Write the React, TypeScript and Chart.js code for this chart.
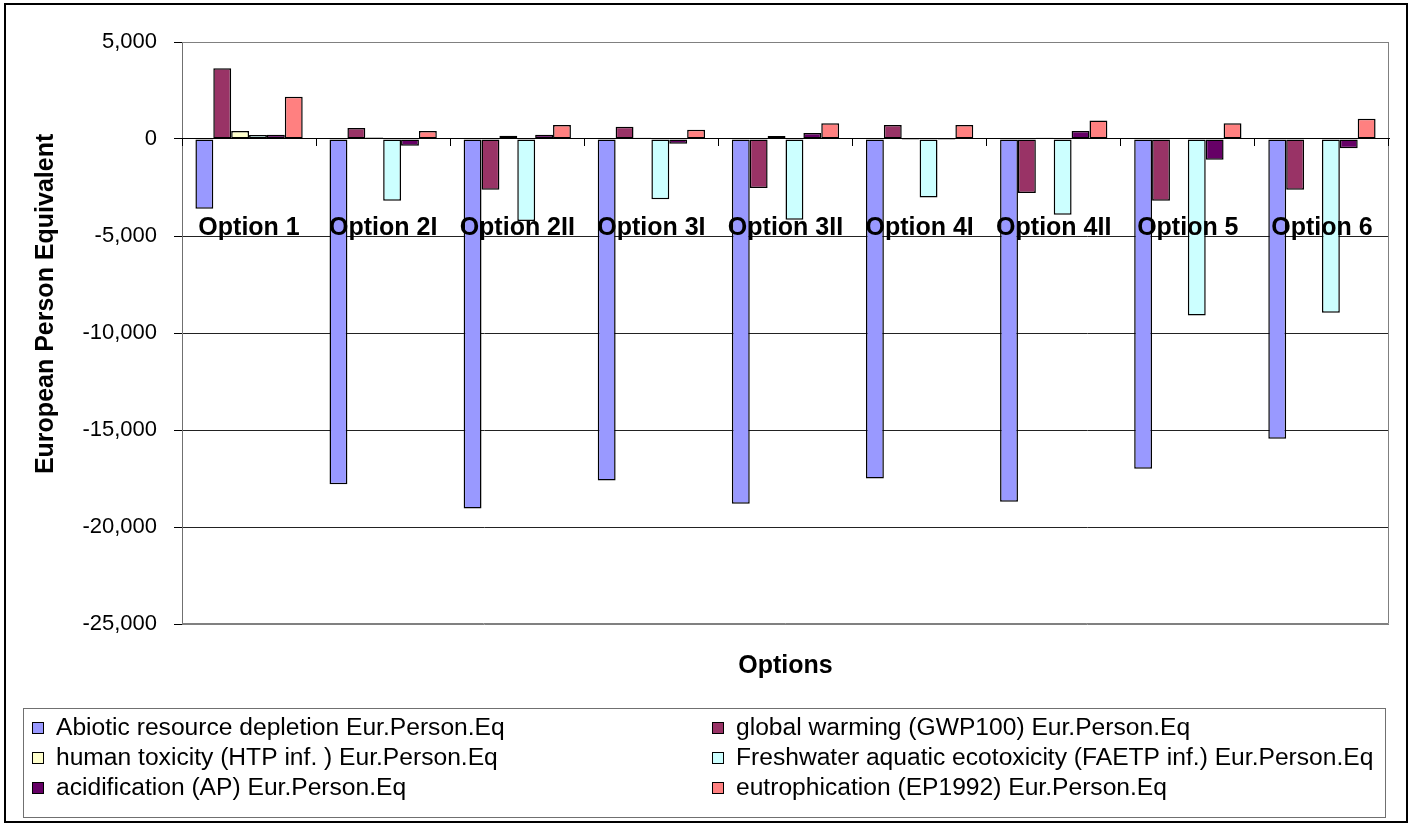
import { useEffect, useRef } from 'react';
import { Chart, registerables } from 'chart.js';

Chart.register(...registerables);

// Options compared in the assessment
const categories = ['Option 1', 'Option 2I', 'Option 2II', 'Option 3I', 'Option 3II', 'Option 4I', 'Option 4II', 'Option 5', 'Option 6'];

// Impact categories, normalised to European person equivalents
const seriesNames = [
  'Abiotic resource depletion Eur.Person.Eq',
  'global warming (GWP100) Eur.Person.Eq',
  'human toxicity (HTP inf. ) Eur.Person.Eq',
  'Freshwater aquatic ecotoxicity (FAETP inf.) Eur.Person.Eq',
  'acidification (AP) Eur.Person.Eq',
  'eutrophication (EP1992) Eur.Person.Eq',
];

const abioticDepletion = [-3600, -17800, -19050, -17600, -18800, -17500, -18700, -17000, -15450];
const globalWarming = [3650, 570, -2610, 630, -2530, 720, -2780, -3180, -2610];
const humanToxicity = [410, 80, 170, 70, 155, -50, 70, 0, 0];
const freshwaterEcotox = [210, -3180, -4230, -3110, -4160, -3010, -3900, -9100, -8950];
const acidification = [220, -345, 220, -240, 310, -50, 410, -1070, -480];
const eutrophication = [2180, 410, 720, 480, 810, 720, 960, 810, 1050];

const seriesValues = [abioticDepletion, globalWarming, humanToxicity, freshwaterEcotox, acidification, eutrophication];
const seriesColors = ['#9999FF', '#993366', '#FFFFCC', '#CCFFFF', '#660066', '#FF8080'];

const yTickValues = [5000, 0, -5000, -10000, -15000, -20000, -25000];
const yAxisTitle = 'European Person Equivalent';

const FONT = '"Liberation Sans", Arial, Helvetica, sans-serif';

// Plot-area frame, value-axis title, two-column legend box and the outer chart border
const frameAndLegend = {
  id: 'frameAndLegend',
  beforeDatasetsDraw(chart: any) {
    const { ctx } = chart;
    const { left, top, right, bottom } = chart.chartArea;
    ctx.save();
    ctx.strokeStyle = '#808080';
    ctx.lineWidth = 1;
    ctx.beginPath();
    ctx.moveTo(left, top + 0.5);
    ctx.lineTo(right - 0.5, top + 0.5);
    ctx.lineTo(right - 0.5, bottom - 0.5);
    ctx.lineTo(left, bottom - 0.5);
    ctx.stroke();
    ctx.restore();
  },
  afterDraw(chart: any) {
    const { ctx } = chart;

    // value-axis title, rotated, sitting slightly above the plot's middle
    const yScale = chart.scales.y;
    ctx.save();
    ctx.translate(46, yScale.getPixelForValue(-8500));
    ctx.rotate(-Math.PI / 2);
    ctx.font = `bold 25px ${FONT}`;
    ctx.fillStyle = '#000';
    ctx.textAlign = 'center';
    ctx.textBaseline = 'middle';
    ctx.fillText(yAxisTitle, 0, 0);
    ctx.restore();

    const boxTop = chart.scales.x2.bottom;
    const boxLeft = 23;
    const boxRight = chart.width - 24;
    const boxBottom = chart.height - 7;
    ctx.save();
    ctx.strokeStyle = '#707070';
    ctx.lineWidth = 1;
    ctx.strokeRect(boxLeft + 0.5, boxTop + 0.5, boxRight - boxLeft, boxBottom - boxTop);

    ctx.font = `23px ${FONT}`;
    ctx.textBaseline = 'middle';
    ctx.textAlign = 'left';
    const datasets = chart.data.datasets;
    datasets.forEach((ds: any, i: number) => {
      const col = i % 2;
      const row = Math.floor(i / 2);
      const x = boxLeft + 9 + col * 680;
      const y = boxTop + 20 + row * 30;
      ctx.fillStyle = ds.backgroundColor;
      ctx.fillRect(x, y - 6, 12, 12);
      ctx.strokeStyle = '#000';
      ctx.strokeRect(x + 0.5, y - 5.5, 11, 11);
      ctx.fillStyle = '#000';
      ctx.save();
      ctx.translate(x + 24, y + 1);
      ctx.scale(1.07, 1);
      ctx.fillText(ds.label, 0, 0);
      ctx.restore();
    });

    ctx.strokeStyle = '#000';
    ctx.lineWidth = 2;
    ctx.strokeRect(5, 4, chart.width - 7, chart.height - 6);
    ctx.restore();
  },
};

export default function App() {
  const canvasRef = useRef<HTMLCanvasElement>(null);

  useEffect(() => {
    const canvas = canvasRef.current;
    if (!canvas) return;
    const chart = new Chart(canvas, {
      type: 'bar',
      data: {
        labels: categories,
        datasets: seriesNames.map((name, i) => ({
          label: name,
          data: seriesValues[i],
          backgroundColor: seriesColors[i],
          borderColor: '#000',
          borderWidth: 1.5,
          borderSkipped: false,
        })),
      },
      options: {
        responsive: false,
        animation: false,
        devicePixelRatio: 1,
        layout: { padding: { top: 42, right: 20, bottom: 116, left: 0 } },
        datasets: { bar: { categoryPercentage: 0.8, barPercentage: 1 } },
        plugins: {
          legend: { display: false },
          tooltip: { enabled: false },
        },
        scales: {
          x: {
            type: 'category',
            position: { y: 0 },
            offset: true,
            grid: {
              display: true,
              drawOnChartArea: false,
              drawTicks: true,
              tickLength: 7,
              color: '#000',
              offset: true,
              z: 1,
            },
            border: { display: true, color: '#000', width: 1, z: 1 },
            ticks: {
              font: { family: FONT, size: 25, weight: 'bold' },
              color: '#000',
              padding: 67,
              maxRotation: 0,
              minRotation: 0,
              autoSkip: false,
              z: 2,
            },
            afterFit: (scale: any) => {
              scale.paddingLeft = 0;
              scale.paddingRight = 0;
            },
          },
          x2: {
            type: 'category',
            position: 'bottom',
            offset: true,
            grid: { display: false },
            border: { display: false },
            ticks: { display: false },
            title: {
              display: true,
              text: 'Options',
              font: { family: FONT, size: 25, weight: 'bold' },
              color: '#000',
              padding: { top: 0, bottom: 27 },
            },
            afterFit: (scale: any) => {
              scale.height = 84;
              scale.paddingLeft = 0;
              scale.paddingRight = 0;
            },
          },
          y: {
            type: 'linear',
            position: 'left',
            min: -25000,
            max: 5000,
            afterBuildTicks: (scale: any) => {
              scale.ticks = yTickValues.map((v) => ({ value: v }));
            },
            grid: {
              color: (c: any) => (c.tick && (c.tick.value === 5000 || c.tick.value === -25000) ? '#808080' : '#222'),
              tickColor: '#000',
              tickLength: 8,
              lineWidth: 1,
            },
            border: { display: true, color: '#707070', width: 1 },
            ticks: {
              font: { family: FONT, size: 22 },
              color: '#000',
              padding: 17,
              callback: (v: any) => Number(v).toLocaleString('en-US'),
            },
            title: { display: false },
            afterFit: (scale: any) => {
              scale.width = 182;
            },
          },
        },
      } as any,
      plugins: [frameAndLegend],
    });
    return () => chart.destroy();
  }, []);

  return (
    <div style={{ position: 'absolute', left: 0, top: 0, width: 1409, height: 824, background: '#fff' }}>
      <canvas ref={canvasRef} width={1409} height={824} style={{ display: 'block' }} />
    </div>
  );
}
